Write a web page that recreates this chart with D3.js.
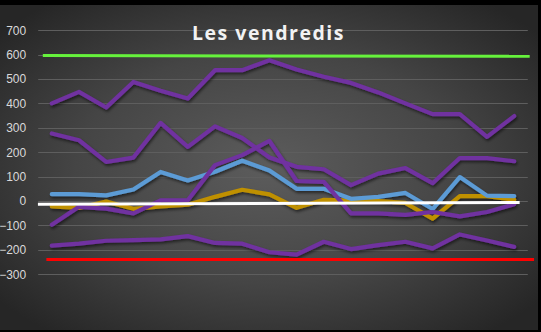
<!DOCTYPE html>
<html>
<head>
<meta charset="utf-8">
<script src="https://cdn.jsdelivr.net/npm/d3@7"></script>
<style>
  html, body { margin: 0; padding: 0; background: #000; }
  svg { display: block; }
</style>
</head>
<body>
<div id="chart"></div>
<script>
// ---- data ----
const title = "Les vendredis";
const categories = ["1","2","3","4","5","6","7","8","9","10","11","12","13","14","15","16","17","18"];
const yTicks = [-300, -200, -100, 0, 100, 200, 300, 400, 500, 600, 700];

const seriesA = [400, 447, 383, 488, 452, 420, 536, 536, 577, 539, 509, 484, 445, 400, 356, 356, 263, 348];
const seriesB = [277, 249, 160, 178, 320, 222, 306, 258, 178, 140, 130, 65, 112, 135, 73, 176, 176, 163];
const seriesC = [-97, -24, -31, -51, 3, 3, 147, 188, 246, 82, 78, -51, -51, -57, -45, -63, -45, -13];
const seriesD = [-183, -175, -163, -160, -157, -144, -172, -175, -210, -220, -167, -197, -181, -167, -194, -137, -162, -188];
const seriesBlue = [28, 28, 23, 47, 119, 84, 120, 165, 125, 50, 50, 9, 17, 33, -33, 98, 22, 20];
const seriesGold = [-22, -28, -2, -32, -22, -15, 17, 46, 27, -28, 5, 2, 0, -8, -72, 20, 20, 5];

// reference lines: [start index, value], [end index, value]
const greenLine = [[-0.33, 596], [17.57, 593]];
const redLine   = [[-0.2, -240], [17.73, -240]];
const whiteLine = [[-0.51, -13], [17.2, -6]];

// ---- layout ----
const W = 541, H = 332;
const svg = d3.select("#chart").append("svg").attr("width", W).attr("height", H);
const defs = svg.append("defs");

const grad = defs.append("radialGradient").attr("id", "bg")
  .attr("cx", "50%").attr("cy", "50%").attr("r", "65%");
grad.append("stop").attr("offset", "0%").attr("stop-color", "#5c5c5c");
grad.append("stop").attr("offset", "55%").attr("stop-color", "#454545");
grad.append("stop").attr("offset", "100%").attr("stop-color", "#262626");

const shadow = defs.append("filter").attr("id", "sh")
  .attr("x", "-10%").attr("y", "-20%").attr("width", "120%").attr("height", "140%");
shadow.append("feDropShadow").attr("dx", 1).attr("dy", 2).attr("stdDeviation", 1.5)
  .attr("flood-color", "#000").attr("flood-opacity", 0.55);

svg.append("rect").attr("width", W).attr("height", H).attr("fill", "#000");
svg.append("rect").attr("x", 0).attr("y", 5).attr("width", 538).attr("height", 325).attr("fill", "url(#bg)");

const x = d3.scaleLinear().domain([-0.5, categories.length - 0.5]).range([38.2, 527.8]);
const y = d3.scaleLinear().domain([-300, 700]).range([274.2, 30.2]);

// gridlines
svg.append("g").selectAll("line").data(yTicks).join("line")
  .attr("x1", x(-0.5)).attr("x2", x(categories.length - 0.5))
  .attr("y1", d => Math.round(y(d)) + 0.5).attr("y2", d => Math.round(y(d)) + 0.5)
  .attr("stroke", "#5e5e5e").attr("stroke-width", 1);

// y axis
const yAxis = svg.append("g").attr("transform", `translate(${x(-0.5)},0)`)
  .call(d3.axisLeft(y).tickValues(yTicks).tickSize(0).tickPadding(12).tickFormat(d3.format("d")));
yAxis.select(".domain").remove();
yAxis.selectAll("text").attr("fill", "#d9d9d9")
  .style("font-family", "'Liberation Sans', Arial, sans-serif").style("font-size", "12px");

// title
svg.append("text").attr("x", 268.5).attr("y", 40)
  .attr("text-anchor", "middle")
  .attr("fill", "#f2f2f2")
  .style("font-family", "'Open Sans', sans-serif").style("font-weight", 700)
  .style("font-size", "19.5px").style("letter-spacing", "1.5px")
  .text(title);

const line = d3.line().x((d, i) => x(i)).y(d => y(d));
const refLine = d3.line().x(d => x(d[0])).y(d => y(d[1]));

const series = [
  { data: seriesD, color: "#7030a0" },
  { data: seriesGold, color: "#bf9000" },
  { data: seriesBlue, color: "#5b9bd5" },
  { data: seriesA, color: "#7030a0" },
  { data: seriesB, color: "#7030a0" },
  { data: seriesC, color: "#7030a0" }
];

const gSeries = svg.append("g").attr("filter", "url(#sh)");
gSeries.selectAll("path").data(series).join("path")
  .attr("d", d => line(d.data))
  .attr("fill", "none").attr("stroke", d => d.color)
  .attr("stroke-width", 4.2).attr("stroke-linejoin", "round").attr("stroke-linecap", "round");

svg.append("path").attr("d", refLine(whiteLine)).attr("fill", "none")
  .attr("stroke", "#ffffff").attr("stroke-width", 3);
svg.append("path").attr("d", refLine(greenLine)).attr("fill", "none")
  .attr("stroke", "#66f23c").attr("stroke-width", 3);
svg.append("path").attr("d", refLine(redLine)).attr("fill", "none")
  .attr("stroke", "#ff0000").attr("stroke-width", 3);
</script>
</body>
</html>
